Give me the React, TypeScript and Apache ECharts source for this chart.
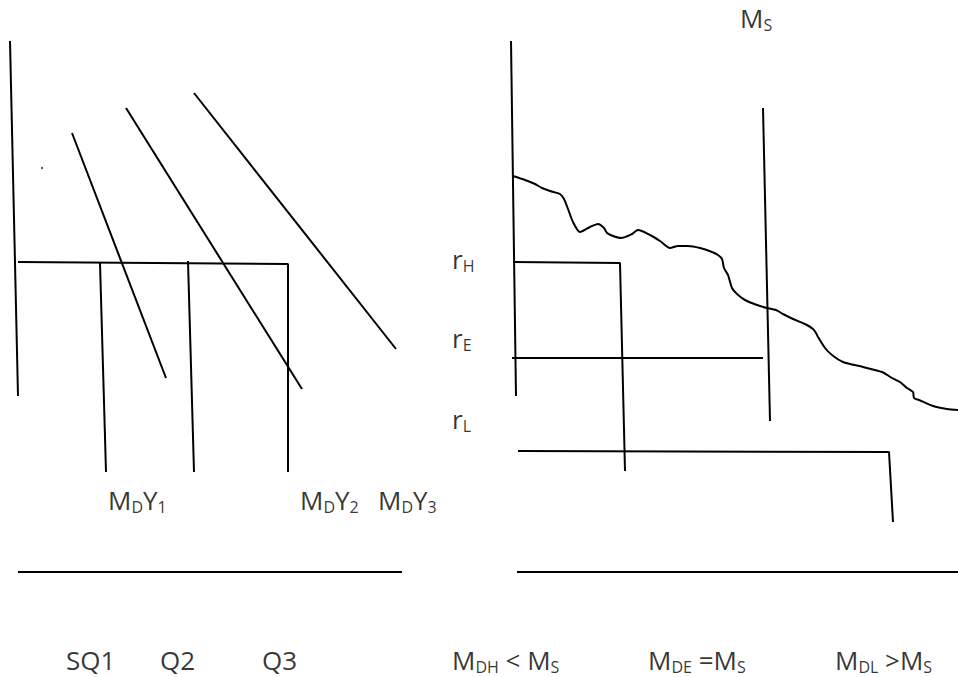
import React, { useEffect, useRef } from "react";
import * as echarts from "echarts";

const W = 958;
const H = 677;

// ---- Left panel strokes (picture coordinates, y grows downward) ----
const leftVerticalAxis = [[10, 41], [18, 396]];
const leftBaseLine = [[18, 572], [402, 572]];
const rateBracketLeft = [[18, 262], [288, 264], [288, 472]];
const quantityLine1 = [[100, 263], [106, 472]];
const quantityLine2 = [[188, 261], [194, 472]];
const demandY1 = [[72, 133], [166, 378]];
const demandY2 = [[126, 108], [302, 389]];
const demandY3 = [[194, 93], [396, 349]];
const strayDot = [[42, 168]];

// ---- Right panel strokes ----
const rightVerticalAxis = [[511, 41], [516, 396]];
const rightBaseLine = [[517, 572], [958, 572]];
const supplyLine = [[763, 108], [770, 421]];
const highRateBracket = [[513, 262], [620, 263], [625, 471]];
const equilibriumRate = [[512, 358], [763, 358]];
const lowRateBracket = [[518, 451], [889, 452], [893, 522]];
const demandCurve = [
  [513, 176], [525, 180], [535, 184], [542, 188], [550, 191], [560, 194],
  [564, 199], [568, 209], [573, 222], [580, 232], [590, 227], [598, 224],
  [604, 228], [607, 233], [613, 236], [621, 238], [632, 234], [638, 230],
  [650, 235], [660, 241], [670, 248], [678, 246], [688, 246], [700, 248],
  [712, 252], [718, 255], [722, 259], [724, 268], [728, 275], [732, 288],
  [737, 294], [745, 300], [757, 305], [767, 308], [776, 310], [783, 314],
  [793, 319], [805, 324], [813, 329], [816, 333], [818, 337], [825, 348],
  [832, 355], [843, 362], [863, 367], [882, 372], [892, 378], [900, 382],
  [907, 388], [913, 392], [914, 398], [919, 400], [933, 406], [947, 409],
  [958, 410],
];

// ---- Text labels ----
const labelTexts = [
  "{n|M}{s|S}",
  "{n|r}{s|H}",
  "{n|r}{s|E}",
  "{n|r}{s|L}",
  "{n|M}{s|D}{n|Y}{s|1}",
  "{n|M}{s|D}{n|Y}{s|2}",
  "{n|M}{s|D}{n|Y}{s|3}",
  "{n|SQ1}",
  "{n|Q2}",
  "{n|Q3}",
  "{n|M}{s|DH}{n| < M}{s|S}",
  "{n|M}{s|DE}{n| =M}{s|S}",
  "{n|M}{s|DL}{n| >M}{s|S}",
];
const labelAnchors = [
  [740, 18],
  [452, 259],
  [452, 338],
  [452, 419],
  [108, 500],
  [300, 500],
  [378, 500],
  [66, 660],
  [160, 660],
  [262, 660],
  [452, 660],
  [648, 660],
  [835, 660],
];

const strokes = [
  leftVerticalAxis, leftBaseLine, rateBracketLeft, quantityLine1, quantityLine2,
  demandY1, demandY2, demandY3,
  rightVerticalAxis, rightBaseLine, supplyLine, highRateBracket,
  equilibriumRate, lowRateBracket,
];

const FONT = "'Open Sans', 'Noto Sans', sans-serif";

export default function App() {
  const ref = useRef<HTMLDivElement>(null);

  useEffect(() => {
    if (!ref.current) return;
    const chart = echarts.init(ref.current, undefined, { renderer: "svg" });

    const lineSeries: any[] = strokes.map((pts) => ({
      type: "line",
      data: pts,
      showSymbol: false,
      symbol: "none",
      clip: false,
      lineStyle: { color: "#000", width: 2 },
      silent: true,
    }));
    lineSeries.push({
      type: "line",
      data: demandCurve,
      showSymbol: false,
      symbol: "none",
      clip: false,
      smooth: 0.25,
      lineStyle: { color: "#000", width: 2 },
      silent: true,
    });

    const option: any = {
      animation: false,
      backgroundColor: "#fff",
      grid: { left: 0, right: 0, top: 0, bottom: 0, containLabel: false },
      xAxis: { type: "value", min: 0, max: W, show: false },
      yAxis: { type: "value", min: 0, max: H, inverse: true, show: false },
      series: [
        ...lineSeries,
        {
          type: "scatter",
          data: strayDot,
          symbolSize: 2,
          itemStyle: { color: "#000" },
          silent: true,
        },
        {
          type: "scatter",
          symbolSize: 0.1,
          itemStyle: { color: "transparent" },
          silent: true,
          data: labelAnchors,
          label: {
            show: true,
            position: "inside",
            align: "left",
            verticalAlign: "middle",
            formatter: (p: any) => labelTexts[p.dataIndex],
            rich: {
              n: { fontSize: 26, fontFamily: FONT, color: "#000", lineHeight: 30 },
              s: {
                fontSize: 16,
                fontFamily: FONT,
                color: "#000",
                lineHeight: 18,
                verticalAlign: "bottom",
              },
            },
          },
        },
      ],
    };
    chart.setOption(option);
    return () => chart.dispose();
  }, []);

  return (
    <div
      ref={ref}
      style={{ position: "fixed", left: 0, top: 0, width: W, height: H, background: "#fff" }}
    />
  );
}
